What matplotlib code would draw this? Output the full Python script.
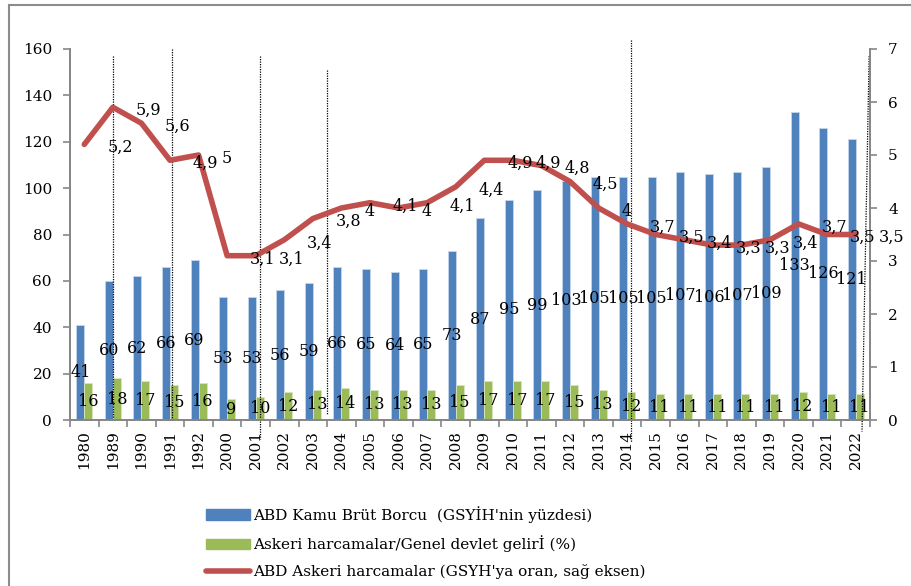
import numpy as np
import matplotlib
matplotlib.use('Agg')
import matplotlib.pyplot as plt
from matplotlib.lines import Line2D
from matplotlib.patches import Patch

plt.rcParams['font.family'] = ['DejaVu Serif']

# -- Données -- #
yillar = ['1980', '1989', '1990', '1991', '1992', '2000', '2001', '2002', '2003',
          '2004', '2005', '2006', '2007', '2008', '2009', '2010', '2011', '2012',
          '2013', '2014', '2015', '2016', '2017', '2018', '2019', '2020', '2021', '2022']
borc = [41, 60, 62, 66, 69, 53, 53, 56, 59, 66, 65, 64, 65, 73, 87, 95, 99, 103,
        105, 105, 105, 107, 106, 107, 109, 133, 126, 121]
askeri_gelir = [16, 18, 17, 15, 16, 9, 10, 12, 13, 14, 13, 13, 13, 15, 17, 17, 17, 15,
                13, 12, 11, 11, 11, 11, 11, 12, 11, 11]
askeri_gsyh = [5.2, 5.9, 5.6, 4.9, 5.0, 3.1, 3.1, 3.4, 3.8, 4.0, 4.1, 4.0, 4.1, 4.4,
               4.9, 4.9, 4.8, 4.5, 4.0, 3.7, 3.5, 3.4, 3.3, 3.3, 3.4, 3.7, 3.5, 3.5]

# traits pointillés verticaux dessinés à la main (x en index, y haut, y bas)
traits = [(1.0, 1.0, 157, 0), (3.07, 3.07, 160, 0), (6.15, 6.15, 157, -8),
          (8.5, 8.5, 151, 2), (19.15, 19.15, 164, -9.5), (27.47, 27.22, 157, -5)]

bleu = '#4F81BD'
vert = '#9BBB59'
rouge = '#C0504D'
gris = '#868686'

x = np.arange(len(yillar))
w = 0.28

fig = plt.figure(figsize=(9.11, 5.86), dpi=100)
ax = fig.add_axes([70/911, 1-420/586, 800/911, 371/586])
ax2 = ax.twinx()

b1 = ax.bar(x - w/2, borc, w, color=bleu, edgecolor='#C6D6EA', linewidth=0.6, zorder=2)
b2 = ax.bar(x + w/2, askeri_gelir, w, color=vert, edgecolor='#D7E4BD', linewidth=0.6, zorder=2)

for i in range(len(x)):
    ax.text(x[i] - w/2, borc[i]/2, str(borc[i]), ha='center', va='center', fontsize=11.5, zorder=5)
    ax.text(x[i] + w/2, askeri_gelir[i]/2, str(askeri_gelir[i]), ha='center', va='center', fontsize=11.5, zorder=5)

ax2.plot(x, askeri_gsyh, color=rouge, lw=4, solid_joinstyle='round', solid_capstyle='round', zorder=3)
for i in range(len(x)):
    ax2.text(x[i] + 0.8, askeri_gsyh[i] - 0.06, '{:g}'.format(askeri_gsyh[i]).replace('.', ','),
             ha='left', va='center', fontsize=11.5, zorder=5, clip_on=False)

for x0, x1, ya, yb in traits:
    ax.plot([x0, x1], [ya, yb], color='black', lw=0.9, ls=(0, (1, 1)), clip_on=False, zorder=4)

ax.set_xlim(-0.5, len(x) - 0.5)
ax.set_ylim(0, 160)
ax.set_yticks(np.arange(0, 161, 20))
ax2.set_ylim(0, 7)
ax2.set_yticks(np.arange(0, 8, 1))

ax.set_xticks(x)
ax.set_xticklabels(yillar, rotation=90, fontsize=11)
ax.set_xticks(np.arange(-0.5, len(x), 1), minor=True)
ax.tick_params(axis='x', which='major', length=0, pad=7)
ax.tick_params(axis='x', which='minor', length=5, width=1.2, color=gris, direction='out')
ax.tick_params(axis='y', length=5, width=1.2, color=gris, labelsize=11, pad=8)
ax2.tick_params(axis='y', length=5, width=1.2, color=gris, labelsize=11, pad=8)

for a in (ax, ax2):
    a.spines['top'].set_visible(False)
    for s in ('left', 'right', 'bottom'):
        a.spines[s].set_color(gris)
        a.spines[s].set_linewidth(1.3)

# cadre de la figure
fig.add_artist(Line2D([9/911, 1], [1-5/586, 1-5/586], color='#8C8C8C', lw=1.5))
fig.add_artist(Line2D([9/911, 9/911], [0, 1-5/586], color='#8C8C8C', lw=1.5))

handles = [Patch(color=bleu), Patch(color=vert),
           Line2D([0], [0], color=rouge, lw=4, solid_capstyle='round')]
labels = ["ABD Kamu Brüt Borcu  (GSYİH'nin yüzdesi)",
          "Askeri harcamalar/Genel devlet gelirİ (%)",
          "ABD Askeri harcamalar (GSYH'ya oran, sağ eksen)"]
fig.legend(handles, labels, loc='upper left', bbox_to_anchor=(200/911, 1-500/586),
           frameon=False, fontsize=11, handlelength=2.9, handleheight=0.65,
           handletextpad=0.15, labelspacing=0.8, borderaxespad=0)

fig.savefig('out.png', dpi=100)
